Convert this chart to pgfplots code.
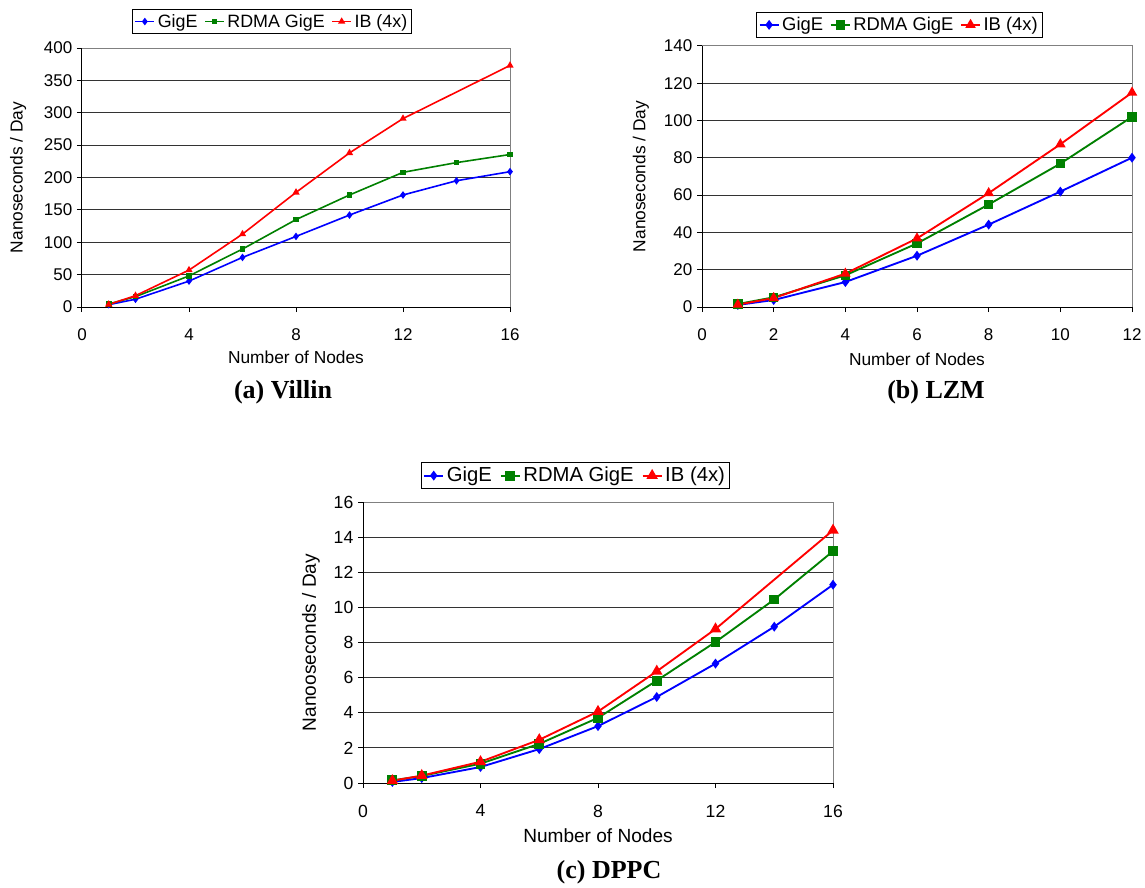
\documentclass[border=0pt]{standalone}
\usepackage{pgfplots}
\pgfplotsset{compat=1.18}
\usepackage{fontspec}
\setmainfont{Liberation Sans}
\newfontfamily\titlefont{Liberation Serif}

\definecolor{xlblue}{RGB}{0,0,255}
\definecolor{xlgreen}{RGB}{0,128,0}
\definecolor{xlred}{RGB}{255,0,0}

\pgfplotsset{
  xlchart/.style={
    scale only axis,
    axis line style={draw=none},
    tick pos=left, tick align=outside,
    major tick length=3.75pt,
    tick style={black, line width=0.75pt},
    ymajorgrids,
    grid style={black!80, line width=0.75pt},
    xmin=0, ymin=0,
    /pgf/number format/assume math mode=true,
    tick label style={font=\fontsize{12.75}{14}\selectfont},
    xticklabel style={yshift=-9pt},
    label style={font=\fontsize{13}{15}\selectfont},
    legend columns=3,
    legend cell align=left,
    legend style={draw=black, line width=0.75pt, anchor=north west,
      font=\fontsize{13.4}{15}\selectfont, inner sep=1.5pt,
      /tikz/every even column/.append style={column sep=3pt}},
    legend image code/.code={
      \draw[mark repeat=2,mark phase=2,##1] plot coordinates {(0cm,0cm) (0.25cm,0cm) (0.5cm,0cm)};},
    clip=false,
  },
}
\newcommand{\xlborder}{%
  \draw[black!50, line width=0.75pt] (rel axis cs:0,1) -- (rel axis cs:1,1) -- (rel axis cs:1,0);
  \draw[black, line width=0.75pt] (rel axis cs:0,1) -- (rel axis cs:0,0) -- (rel axis cs:1,0);}

\begin{document}
\begin{tikzpicture}
\path[use as bounding box] (0pt,0pt) rectangle (858.75pt,-666pt);

% (a) Villin
\begin{axis}[xlchart,
    at={(82*0.75pt,-307*0.75pt)}, anchor=south west,
    width=428*0.75pt, height=259*0.75pt,
    xmax=16, ymax=400,
    xtick={0,4,8,12,16}, ytick={0,50,...,400},
    xlabel={Number of Nodes}, ylabel={Nanoseconds / Day},
    xlabel style={at={(axis description cs:0.5,-0.218)}, anchor=base},
    ylabel style={at={(axis description cs:-0.149,0.5)}, anchor=center},
    legend style={at={(axis description cs:0.117,1.151)}},
    every axis plot/.append style={line width=1.2pt, mark options={solid}},
  ]
  \addplot[color=xlblue, mark=diamond*, mark size=1.9pt] coordinates {
    (1,3.6) (2,12) (4,40) (6,76.6) (8,109) (10,142) (12,173) (14,195) (16,209)};
  \addlegendentry{GigE}
  \addplot[color=xlgreen, mark=square*, mark size=1.5pt] coordinates {
    (1,4.6) (2,16) (4,48) (6,89.5) (8,135) (10,173) (12,208) (14,223) (16,235.5)};
  \addlegendentry{RDMA GigE}
  \addplot[color=xlred, mark=triangle*, mark size=2pt] coordinates {
    (1,4) (2,17.5) (4,57) (6,112.6) (8,177) (10,238) (12,291) (16,373)};
  \addlegendentry{IB (4x)}
  \xlborder
\end{axis}

% (b) LZM
\begin{axis}[xlchart,
    at={(702*0.75pt,-307*0.75pt)}, anchor=south west,
    width=430*0.75pt, height=261*0.75pt,
    xmax=12, ymax=140,
    xtick={0,2,...,12}, ytick={0,20,...,140},
    xlabel={Number of Nodes}, ylabel={Nanoseconds / Day},
    xlabel style={at={(axis description cs:0.5,-0.226)}, anchor=base},
    ylabel style={at={(axis description cs:-0.142,0.5)}, anchor=center},
    legend style={at={(axis description cs:0.126,1.130)}, font=\fontsize{13.8}{15}\selectfont},
    every axis plot/.append style={line width=1.4pt, mark options={solid}},
  ]
  \addplot[color=xlblue, mark=diamond*, mark size=2.6pt] coordinates {
    (1,1.1) (2,3.75) (4,13.4) (6,27.5) (8,44.2) (10,61.9) (12,80.1)};
  \addlegendentry{GigE}
  \addplot[color=xlgreen, mark=square*, mark size=2.8pt] coordinates {
    (1,1.6) (2,5.2) (4,17) (6,34.1) (8,55) (10,76.9) (12,102)};
  \addlegendentry{RDMA GigE}
  \addplot[color=xlred, mark=triangle*, mark size=3.2pt] coordinates {
    (1,1.25) (2,4.8) (4,17.9) (6,36.8) (8,61.1) (10,87.3) (12,115)};
  \addlegendentry{IB (4x)}
  \xlborder
\end{axis}

% (c) DPPC
\begin{axis}[xlchart,
    at={(363*0.75pt,-783*0.75pt)}, anchor=south west,
    width=470*0.75pt, height=281*0.75pt,
    xmax=16, ymax=16,
    xtick={0,4,8,12,16}, ytick={0,2,...,16},
    tick label style={font=\fontsize{13.2}{14}\selectfont},
    label style={font=\fontsize{14.3}{16}\selectfont},
    xlabel={Number of Nodes}, ylabel={Nanooseconds / Day},
    xlabel style={at={(axis description cs:0.5,-0.21)}, anchor=base},
    ylabel style={at={(axis description cs:-0.111,0.5)}, anchor=center},
    legend style={at={(axis description cs:0.123,1.142)}, font=\fontsize{15.2}{16}\selectfont,
      /tikz/every even column/.append style={column sep=4pt}},
    every axis plot/.append style={line width=1.4pt, mark options={solid}},
  ]
  \addplot[color=xlblue, mark=diamond*, mark size=2.6pt] coordinates {
    (1,0.06) (2,0.28) (4,0.91) (6,1.93) (8,3.24) (10,4.9) (12,6.8) (14,8.9) (16,11.29)};
  \addlegendentry{GigE}
  \addplot[color=xlgreen, mark=square*, mark size=3pt] coordinates {
    (1,0.15) (2,0.4) (4,1.1) (6,2.23) (8,3.71) (10,5.83) (12,8.03) (14,10.45) (16,13.2)};
  \addlegendentry{RDMA GigE}
  \addplot[color=xlred, mark=triangle*, mark size=3.6pt] coordinates {
    (1,0.13) (2,0.42) (4,1.21) (6,2.46) (8,4.07) (10,6.36) (12,8.77) (16,14.39)};
  \addlegendentry{IB (4x)}
  \xlborder
\end{axis}

\node[font=\titlefont\bfseries\fontsize{19.5}{22}\selectfont] at (283*0.75pt,-392*0.75pt) {(a) Villin};
\node[font=\titlefont\bfseries\fontsize{19.5}{22}\selectfont] at (936*0.75pt,-392*0.75pt) {(b) LZM};
\node[font=\titlefont\bfseries\fontsize{19.5}{22}\selectfont] at (609*0.75pt,-872*0.75pt) {(c) DPPC};
\end{tikzpicture}
\end{document}
